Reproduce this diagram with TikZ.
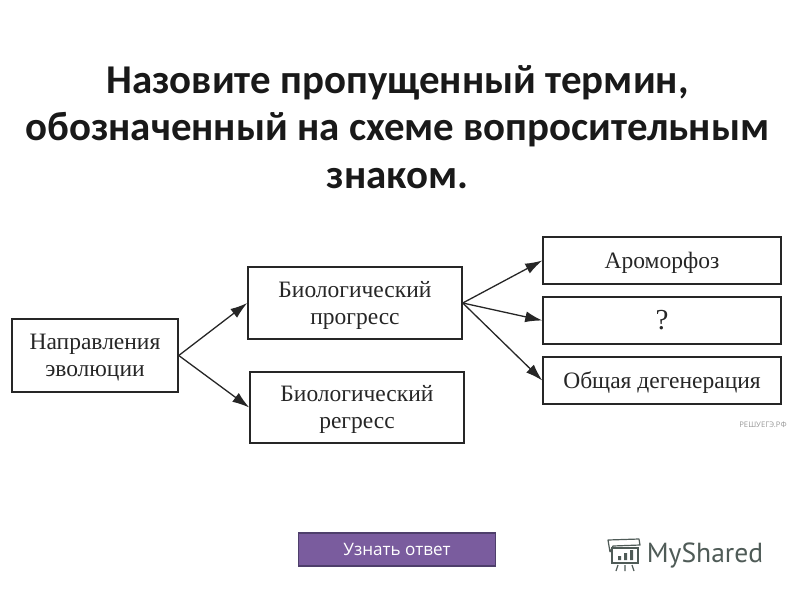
\documentclass[tikz,border=0pt]{standalone}
\usepackage{fontspec}
\setmainfont{Liberation Serif}
\newfontfamily\titlefont{Carlito}
\newfontfamily\buttonfont{Open Sans}
\newfontfamily\logofont{PT Sans}
\usetikzlibrary{arrows.meta}
\definecolor{buttonfill}{HTML}{7A5C9E}
\definecolor{buttonline}{HTML}{4E3F6B}
\definecolor{logogray}{HTML}{4F5B57}
\newcommand{\lowstrut}{\rule{0pt}{20pt}}
\tikzset{
  termbox/.style={draw=black!85,line width=1.5pt,inner sep=0pt,align=center,text=black!85,font=\fontsize{23.5}{27}\selectfont},
  linkarrow/.style={draw=black!85,line width=1.3pt,-{Latex[length=17pt,width=11pt]}}
}
\begin{document}
\begin{tikzpicture}[x=1pt,y=-1pt]
\useasboundingbox (0,0) rectangle (800,600);
\node[align=center,font=\titlefont\bfseries\fontsize{40.9}{47.5}\selectfont,text=black!90] (title) at (397.5,127)
  {Назовите пропущенный термин,\\обозначенный на схеме вопросительным\\знаком.};%заголовок
\node[termbox,minimum width=166pt,minimum height=73pt] (napr) at (95,355.5) {\lowstrut Направления\\эволюции};
\node[termbox,minimum width=214pt,minimum height=72pt] (prog) at (355,303) {\lowstrut Биологический\\прогресс};
\node[termbox,minimum width=214pt,minimum height=71pt] (regr) at (357,407.5) {\lowstrut Биологический\\регресс};
\node[termbox,minimum width=238pt,minimum height=47pt] (arom) at (662,260.5) {\lowstrut Ароморфоз};
\node[termbox,minimum width=238pt,minimum height=47pt,font=\fontsize{29}{27}\selectfont] (vopr) at (662,320.5) {?};
\node[termbox,minimum width=238pt,minimum height=47pt] (degen) at (662,380.5) {\lowstrut Общая дегенерация};
\draw[linkarrow] (napr.east) -- (prog.west);
\draw[linkarrow] (napr.east) -- (regr.west);
\foreach \target in {arom,vopr,degen}
  \draw[linkarrow] (prog.east) -- (\target.west);
\node[font=\buttonfont\fontsize{7.7}{9}\selectfont,text=black!40] (reshu) at (763,425) {РЕШУЕГЭ.РФ};
\node[draw=buttonline,line width=1.2pt,fill=buttonfill,text=white,minimum width=197pt,minimum height=33pt,font=\buttonfont\fontsize{17.1}{20}\selectfont] (otvet) at (397,549.5) {Узнать ответ};%кнопка
\node[font=\logofont\fontsize{27.6}{32}\selectfont,text=logogray,inner sep=0pt] (logo) at (705,555) {MyShared};
\draw[logogray,line width=1.2pt,line join=round] (610,552) -- (608,540) -- (639,539) -- (640,545) -- (613,546) -- (610,552);%значок
\draw[logogray,line width=1.5pt] (612,548) rectangle (638,563);
\fill[logogray] (618,556) rectangle (621,560) (624,553) rectangle (627,560) (630,550) rectangle (633,560);
\draw[logogray,line width=1.2pt] (618,565) -- (616,571) (625,565) -- (625,571) (632,565) -- (634,571);
\end{tikzpicture}
\end{document}
